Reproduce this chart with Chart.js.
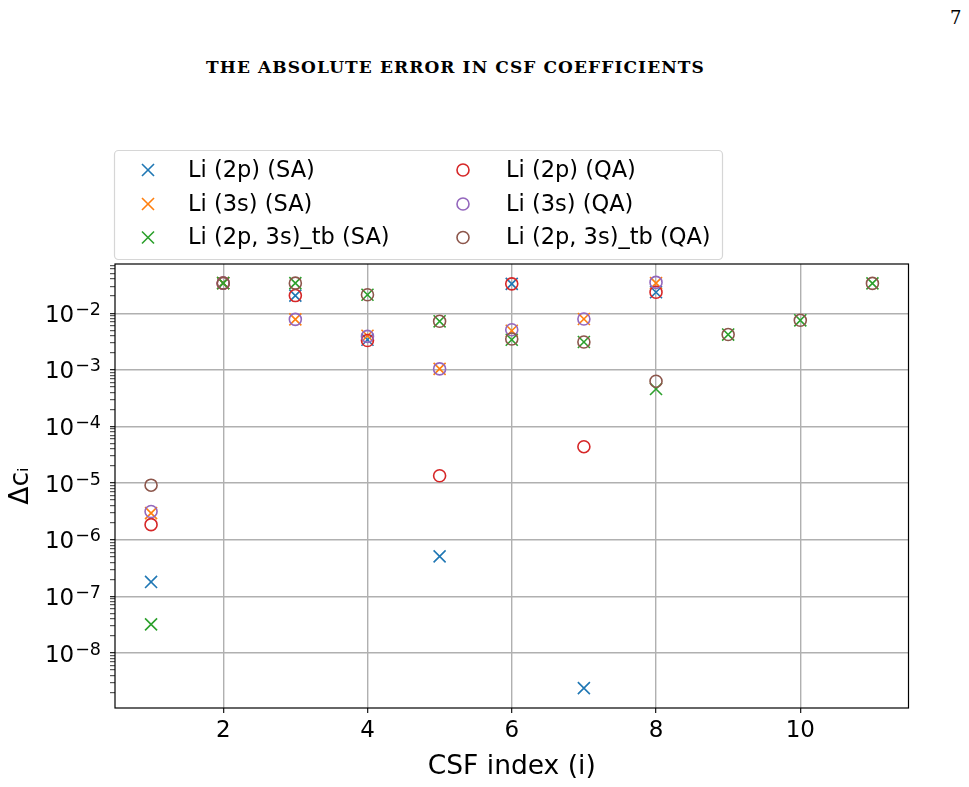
<!DOCTYPE html>
<html>
<head>
<meta charset="utf-8">
<script src="https://cdn.jsdelivr.net/npm/chart.js@4/dist/chart.umd.min.js"></script>
<style>
html, body { margin: 0; padding: 0; background: #fff; }
#wrap { position: relative; width: 969px; height: 787px; overflow: hidden; }
#c { position: absolute; left: 0; top: 0; }
#pagetitle { position: absolute; left: 0; width: 911px; top: 57px; text-align: center;
  font-family: 'DejaVu Serif', serif; font-weight: bold; font-size: 17px; letter-spacing: 1.1px; color: #000; white-space: nowrap; }
#pageno { position: absolute; left: 950px; top: 7px; font-family: 'DejaVu Serif', serif; font-size: 18px; color: #000; }
</style>
</head>
<body>
<div id="wrap">
  <div id="pagetitle">THE ABSOLUTE ERROR IN CSF COEFFICIENTS</div>
  <div id="pageno">7</div>
  <canvas id="c" width="969" height="787"></canvas>
</div>
<script>
// ---------------- data ----------------
const csfIndex = [1, 2, 3, 4, 5, 6, 7, 8, 9, 10, 11];

const li2pSA   = [1.8e-7, 0.034, 0.0205, 0.0034, 5.1e-7, 0.033, 2.4e-9, 0.0235];
const li3sSA   = [2.95e-6, 0.034, 0.0078, 0.0040, 1.04e-3, 0.0049, 0.0079, 0.034];
const liTbSA   = [3.2e-8, 0.034, 0.034, 0.0212, 0.0072, 0.0034, 0.0031, 4.6e-4, 0.0042, 0.0075, 0.0336];
const li2pQA   = [1.85e-6, 0.034, 0.0205, 0.0033, 1.35e-5, 0.033, 4.4e-5, 0.0235];
const li3sQA   = [3.15e-6, 0.034, 0.0078, 0.0039, 1.04e-3, 0.0051, 0.0079, 0.035];
const liTbQA   = [9.2e-6, 0.034, 0.034, 0.0212, 0.0072, 0.0035, 0.0031, 6.3e-4, 0.0042, 0.0075, 0.0336];

const seriesLabels = ['Li (2p) (SA)', 'Li (3s) (SA)', 'Li (2p, 3s)_tb (SA)',
                      'Li (2p) (QA)', 'Li (3s) (QA)', 'Li (2p, 3s)_tb (QA)'];
const seriesValues = [li2pSA, li3sSA, liTbSA, li2pQA, li3sQA, liTbQA];
const seriesColors = ['#1f77b4', '#ff7f0e', '#2ca02c', '#d62728', '#9467bd', '#8c564b'];
const seriesMarkers = ['crossRot', 'crossRot', 'crossRot', 'circle', 'circle', 'circle'];

const xTickValues = [2, 4, 6, 8, 10];
const yMajorExponents = [-8, -7, -6, -5, -4, -3, -2];
const xAxisTitle = 'CSF index (i)';
const yAxisTitle = 'Δcᵢ';

// ---------------- helpers ----------------
const Y_MIN = 1.07e-9, Y_MAX = 0.074;
function logTicks() {
  const out = [];
  for (let e = -10; e <= 0; e++) {
    for (let m = 1; m <= 9; m++) {
      const v = m * Math.pow(10, e);
      if (v >= Y_MIN && v <= Y_MAX) out.push({ value: v, major: m === 1 });
    }
  }
  return out;
}
function isMajorVal(v) { const l = Math.log10(v); return Math.abs(l - Math.round(l)) < 1e-6; }

const datasets = seriesValues.map((vals, k) => {
  const isCircle = seriesMarkers[k] === 'circle';
  return {
    label: seriesLabels[k],
    data: vals.map((v, i) => ({ x: csfIndex[i], y: v })),
    pointStyle: seriesMarkers[k],
    borderColor: seriesColors[k],
    backgroundColor: isCircle ? 'rgba(0,0,0,0)' : seriesColors[k],
    pointRadius: isCircle ? 6 : 8.5,
    pointHoverRadius: isCircle ? 6 : 8.5,
    pointBorderWidth: 1.6,
    showLine: false,
    order: seriesValues.length - 1 - k
  };
});

const TICK_FONT = { family: 'DejaVu Sans', size: 23 };
const LEGEND_FONT = { family: 'DejaVu Sans', size: 22.5 };
const TITLE_FONT = { family: 'DejaVu Sans', size: 26.5 };

const framePlugin = {
  id: 'frameAndLegend',
  afterDraw(chart) {
    const { ctx, chartArea: a } = chart;
    ctx.save();
    // axes frame
    ctx.strokeStyle = '#000';
    ctx.lineWidth = 1.2;
    ctx.strokeRect(a.left, a.top, a.right - a.left, a.bottom - a.top);

    // y tick labels as 10 with superscript exponent (mathtext style)
    const ys = chart.scales.y;
    ctx.fillStyle = '#000';
    ctx.textBaseline = 'alphabetic';
    ctx.textAlign = 'left';
    const baseFont = TICK_FONT.size + 'px ' + TICK_FONT.family;
    const supFont = '17.5px ' + TICK_FONT.family;
    yMajorExponents.forEach(e => {
      const py = ys.getPixelForValue(Math.pow(10, e));
      const supTxt = (e < 0 ? '\u2212' : '') + Math.abs(e);
      ctx.font = supFont;
      const sw = ctx.measureText(supTxt).width;
      ctx.font = baseFont;
      const bw = ctx.measureText('10').width;
      const right = 101;
      ctx.fillText('10', right - sw - bw - 1, py + 8.5);
      ctx.font = supFont;
      ctx.fillText(supTxt, right - sw, py + 1.5);
    });

    // legend box (2 columns, column-major like matplotlib ncol=2)
    const bx = a.left - 1, by = 150, bw = 608, bh = 109;
    ctx.beginPath();
    if (ctx.roundRect) ctx.roundRect(bx + 0.5, by + 0.5, bw, bh, 4); else ctx.rect(bx + 0.5, by + 0.5, bw, bh);
    ctx.fillStyle = 'rgba(255,255,255,0.8)';
    ctx.fill();
    ctx.strokeStyle = '#d6d6d6';
    ctx.lineWidth = 1.2;
    ctx.stroke();

    const rowY = [by + 20, by + 54, by + 87.5];
    const colMarkerX = [bx + 34, bx + 349];
    const colTextX = [bx + 74, bx + 392];
    ctx.font = LEGEND_FONT.size + 'px ' + LEGEND_FONT.family;
    ctx.textBaseline = 'middle';
    ctx.textAlign = 'left';
    chart.data.datasets.forEach((ds, k) => {
      const col = Math.floor(k / 3), row = k % 3;
      const mx = colMarkerX[col], my = rowY[row];
      ctx.strokeStyle = ds.borderColor;
      ctx.fillStyle = ds.backgroundColor;
      ctx.lineWidth = ds.pointBorderWidth;
      Chart.helpers.drawPoint(ctx, { pointStyle: ds.pointStyle, rotation: 0, radius: ds.pointRadius, borderWidth: ds.pointBorderWidth }, mx, my);
      ctx.fillStyle = '#000';
      ctx.fillText(ds.label, colTextX[col], my + 1);
    });
    ctx.restore();
  }
};

new Chart(document.getElementById('c'), {
  type: 'scatter',
  data: { datasets },
  options: {
    responsive: false,
    animation: false,
    events: [],
    layout: { padding: { top: 264, right: 60.5, bottom: 0, left: 0 } },
    plugins: { legend: { display: false }, tooltip: { enabled: false }, title: { display: false } },
    scales: {
      x: {
        type: 'linear',
        min: 0.5, max: 11.5,
        afterBuildTicks: s => { s.ticks = xTickValues.map(v => ({ value: v })); },
        afterFit: s => { s.height = 79; },
        border: { display: false },
        grid: { color: '#b0b0b0', lineWidth: 1.4, tickColor: '#000', tickLength: 5, tickWidth: 1.1 },
        ticks: { font: TICK_FONT, color: '#000', padding: 4, autoSkip: false, maxRotation: 0, callback: v => String(v) },
        title: { display: true, text: xAxisTitle, font: TITLE_FONT, color: '#000', padding: { top: 0, bottom: 4 } }
      },
      y: {
        type: 'logarithmic',
        min: Y_MIN, max: Y_MAX,
        afterBuildTicks: s => { s.ticks = logTicks(); },
        afterFit: s => { s.width = 115; },
        border: { display: false },
        grid: {
          color: c => (c.tick && isMajorVal(c.tick.value)) ? '#b0b0b0' : 'rgba(0,0,0,0)',
          lineWidth: 1.4,
          tickColor: '#000',
          tickLength: 5,
          tickWidth: c => (c.tick && isMajorVal(c.tick.value)) ? 1.1 : 0.8
        },
        ticks: { display: false, autoSkip: false },
        title: { display: true, text: yAxisTitle, font: TITLE_FONT, color: '#000', padding: { top: 5, bottom: 0 } }
      }
    }
  },
  plugins: [framePlugin]
});
</script>
</body>
</html>
